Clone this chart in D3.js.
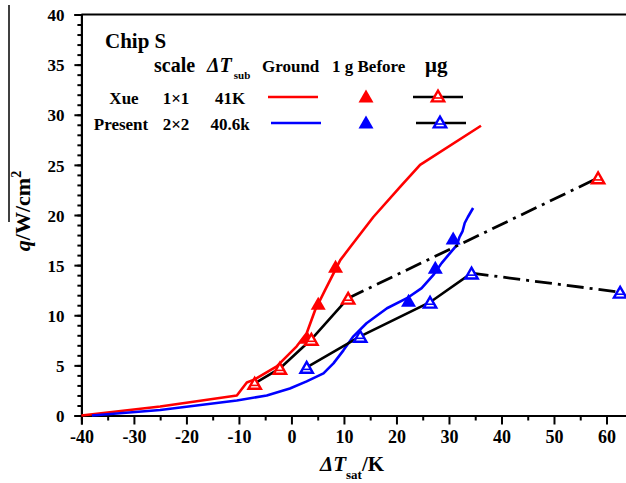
<!DOCTYPE html>
<html lang="en">

<head>
    <meta charset="UTF-8">
    <title>Chip S boiling curves</title>
    <script src="https://d3js.org/d3.v7.min.js"></script>
    <style>
        body {
            margin: 0;
            background: #fff;
        }

        text {
            font-family: "Liberation Serif", "Times New Roman", serif;
            font-weight: bold;
            fill: #000;
        }

        .axis path,
        .axis line {
            stroke: #000;
            stroke-width: 2px;
        }
    </style>
</head>

<body>
    <div id="chart"></div>
</body>

<script>
    // ground curves (lines)
    var xueGroundT = [-40, -25, -10.4, -8.5, -7.0, -2.8, 1.0, 2.9, 4.5, 6.4, 9.3, 11.2, 15.6, 20.7, 24.5, 36.1];
    var xueGroundQ = [0, 0.9, 2.0, 3.3, 3.6, 4.9, 6.9, 8.2, 10.5, 12.5, 15.5, 16.8, 19.8, 22.8, 25.0, 28.9];

    var presentGroundT = [-38, -25, -10.4, -4.7, -0.3, 2.9, 6.1, 8.0, 9.9, 11.8, 14.3, 18.2, 22.0, 24.8, 27.0, 28.6, 30.2, 31.5, 32.0, 32.6, 33.0, 33.6, 34.6];
    var presentGroundQ = [0, 0.55, 1.5, 2.0, 2.7, 3.4, 4.2, 5.2, 6.5, 7.9, 9.2, 10.7, 11.7, 12.7, 14.0, 15.2, 16.2, 17.0, 17.8, 18.4, 19.2, 19.8, 20.7];

    // 1 g before (filled triangles)
    var xueBeforeT = [3.0, 5.1, 8.4];
    var xueBeforeQ = [7.8, 11.2, 14.9];
    var presentBeforeT = [22.3, 27.4, 30.8];
    var presentBeforeQ = [11.5, 14.8, 17.7];

    // microgravity (hollow triangles)
    var xueMicroT = [-7.0, -2.2, 3.8, 10.8, 58.4];
    var xueMicroQ = [3.2, 4.7, 7.6, 11.7, 23.7];
    var presentMicroT = [2.9, 13.1, 26.4, 34.3, 62.6];
    var presentMicroQ = [4.8, 7.9, 11.3, 14.2, 12.3];

    var xTicks = [-40, -30, -20, -10, 0, 10, 20, 30, 40, 50, 60];
    var yTicks = [0, 5, 10, 15, 20, 25, 30, 35, 40];

    var red = "#ff0000", blue = "#0000ff";

    var width = 626,
        height = 483;

    var svg = d3.select("#chart")
        .append("svg")
        .attr("width", width)
        .attr("height", height)
        .style("display", "block");

    svg.append("rect").attr("width", width).attr("height", height).attr("fill", "#fff");

    // plot runs off the right edge of the picture
    var x = d3.scaleLinear().domain([-40, 70]).range([81.4, 659]);
    var y = d3.scaleLinear().domain([0, 40]).range([415.5, 14.5]);

    function zip(a, b) {
        return a.map(function(d, i) { return [d, b[i]]; });
    }

    /*********************************** AXES ***********************************/

    svg.append("g")
        .attr("class", "axis")
        .attr("transform", "translate(" + x(-40) + ",0)")
        .call(d3.axisLeft(y).tickValues(d3.range(0, 41, 1)).tickSize(4).tickFormat(""));

    svg.append("g")
        .attr("class", "axis")
        .attr("transform", "translate(" + x(-40) + ",0)")
        .call(d3.axisLeft(y).tickValues(yTicks).tickSize(7).tickPadding(10).tickFormat(function(d) { return String(d); }))
        .call(function(g) {
            g.selectAll("text").style("font-size", "17px").attr("dy", "0.36em");
        });

    svg.append("g")
        .attr("class", "axis")
        .attr("transform", "translate(0," + y(0) + ")")
        .call(d3.axisBottom(x).tickValues(d3.range(-35, 70, 10)).tickSize(5).tickFormat(""));

    svg.append("g")
        .attr("class", "axis")
        .attr("transform", "translate(0," + y(0) + ")")
        .call(d3.axisBottom(x).tickValues(xTicks).tickSize(9).tickPadding(6).tickFormat(function(d) { return String(d); }))
        .call(function(g) {
            g.selectAll("text").style("font-size", "18px");
        });

    // top frame line
    svg.append("line")
        .attr("x1", x(-40)).attr("x2", x(70))
        .attr("y1", y(40)).attr("y2", y(40))
        .attr("stroke", "#000").attr("stroke-width", 2);

    // axis titles
    var xt = svg.append("text")
        .attr("x", 320).attr("y", 471)
        .style("font-size", "21px");
    xt.append("tspan").style("font-style", "italic").text("ΔT");
    xt.append("tspan").attr("dy", 8).style("font-size", "13px").text("sat");
    xt.append("tspan").attr("dy", -8).text("/K");

    var yt = svg.append("text")
        .attr("transform", "translate(30,211) rotate(-90)")
        .attr("text-anchor", "middle")
        .style("font-size", "22px");
    yt.append("tspan").style("font-style", "italic").text("q");
    yt.append("tspan").text("/W/cm");
    yt.append("tspan").attr("dy", -9).style("font-size", "14px").text("2");

    // stray rule above the y title
    svg.append("line")
        .attr("x1", 9).attr("x2", 9).attr("y1", 5).attr("y2", 222)
        .attr("stroke", "#000").attr("stroke-width", 1.5);

    /*********************************** DATA ***********************************/

    var line = d3.line()
        .x(function(d) { return x(d[0]); })
        .y(function(d) { return y(d[1]); });

    var plot = svg.append("g");

    plot.append("path")
        .datum(zip(xueGroundT, xueGroundQ))
        .attr("d", line)
        .attr("fill", "none").attr("stroke", red).attr("stroke-width", 2.6)
        .attr("stroke-linejoin", "round");

    plot.append("path")
        .datum(zip(presentGroundT, presentGroundQ))
        .attr("d", line)
        .attr("fill", "none").attr("stroke", blue).attr("stroke-width", 2.6)
        .attr("stroke-linejoin", "round");

    // microgravity: solid between the close points, dash-dot to the last one
    function microLine(t, q) {
        var pts = zip(t, q);
        plot.append("path")
            .datum(pts.slice(0, pts.length - 1))
            .attr("d", line)
            .attr("fill", "none").attr("stroke", "#000").attr("stroke-width", 2.6);
        plot.append("path")
            .datum(pts.slice(pts.length - 2))
            .attr("d", line)
            .attr("fill", "none").attr("stroke", "#000").attr("stroke-width", 2.8)
            .attr("stroke-dasharray", "17,6,3,6");
    }
    microLine(xueMicroT, xueMicroQ);
    microLine(presentMicroT, presentMicroQ);

    function triPath(cx, cy) {
        return "M" + (cx - 7.5) + "," + (cy + 6.5) + "L" + (cx + 7.5) + "," + (cy + 6.5) + "L" + cx + "," + (cy - 6.5) + "Z";
    }

    function filledTri(g, cx, cy, col) {
        g.append("path").attr("d", triPath(cx, cy)).attr("fill", col);
    }

    function hollowTri(g, cx, cy, col) {
        g.append("path").attr("d", "M" + (cx - 6.2) + "," + (cy + 5.4) + "L" + (cx + 6.2) + "," + (cy + 5.4) + "L" + cx + "," + (cy - 5.4) + "Z")
            .attr("fill", "#fff").attr("stroke", col).attr("stroke-width", 2.4);
        g.append("line")
            .attr("x1", cx - 4).attr("x2", cx + 4)
            .attr("y1", cy + 2).attr("y2", cy + 2)
            .attr("stroke", col).attr("stroke-width", 1.6);
    }

    zip(xueBeforeT, xueBeforeQ).forEach(function(d) { filledTri(plot, x(d[0]), y(d[1]), red); });
    zip(presentBeforeT, presentBeforeQ).forEach(function(d) { filledTri(plot, x(d[0]), y(d[1]), blue); });
    zip(xueMicroT, xueMicroQ).forEach(function(d) { hollowTri(plot, x(d[0]), y(d[1]), red); });
    zip(presentMicroT, presentMicroQ).forEach(function(d) { hollowTri(plot, x(d[0]), y(d[1]), blue); });

    /*********************************** LEGEND ***********************************/

    var lg = svg.append("g").style("font-size", "17px");

    lg.append("text").attr("x", 105).attr("y", 48).style("font-size", "21px").text("Chip S");

    lg.append("text").attr("x", 154).attr("y", 72).style("font-size", "20px").text("scale");
    var dt = lg.append("text").attr("x", 207).attr("y", 72).style("font-size", "20px");
    dt.append("tspan").style("font-style", "italic").text("ΔT");
    dt.append("tspan").attr("dy", 7).attr("dx", 2).style("font-size", "11px").text("sub");
    lg.append("text").attr("x", 262).attr("y", 72).text("Ground");
    lg.append("text").attr("x", 332).attr("y", 72).text("1 g Before");
    lg.append("text").attr("x", 425).attr("y", 72).style("font-size", "21px").text("μg");

    var rows = [
        { name: "Xue", scale: "1×1", sub: "41K", col: red, y: 104, nx: 124 },
        { name: "Present", scale: "2×2", sub: "40.6k", col: blue, y: 130, nx: 121 }
    ];

    rows.forEach(function(r, i) {
        var my = r.y - 7;
        lg.append("text").attr("x", r.nx).attr("y", r.y).attr("text-anchor", "middle").text(r.name);
        lg.append("text").attr("x", 176).attr("y", r.y).attr("text-anchor", "middle").text(r.scale);
        lg.append("text").attr("x", 230).attr("y", r.y).attr("text-anchor", "middle").text(r.sub);
        lg.append("line")
            .attr("x1", 268 + i * 3).attr("x2", 318 + i * 3).attr("y1", my).attr("y2", my)
            .attr("stroke", r.col).attr("stroke-width", 2.6);
        filledTri(lg, 366, my - 1, r.col);
        lg.append("line")
            .attr("x1", 413 + i * 3).attr("x2", 463 + i * 3).attr("y1", my).attr("y2", my)
            .attr("stroke", "#000").attr("stroke-width", 2.6);
        hollowTri(lg, 438 + i * 2, my - 1, r.col);
    });
</script>

</html>
